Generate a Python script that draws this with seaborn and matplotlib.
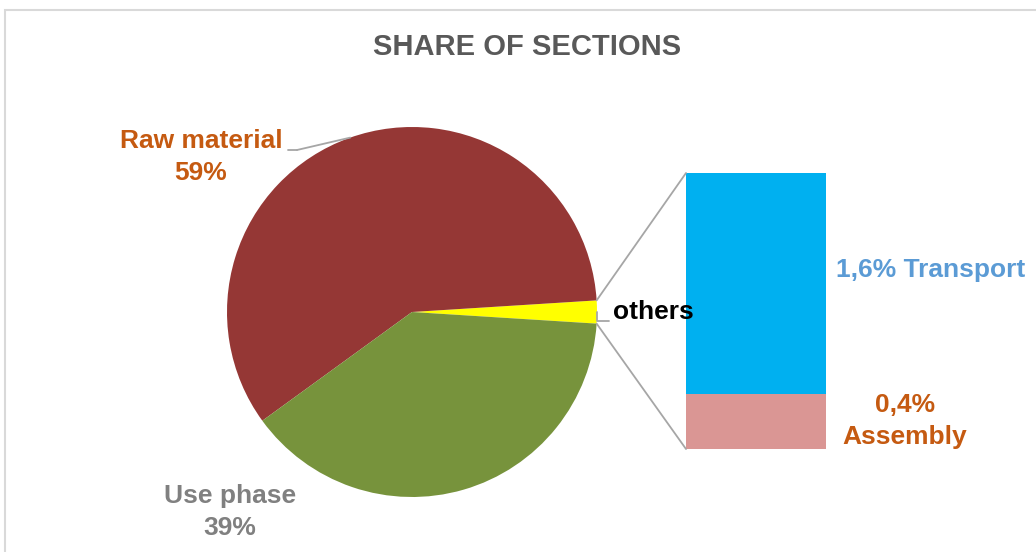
import numpy as np
import matplotlib
matplotlib.use("Agg")
import matplotlib.pyplot as plt
import seaborn as sns
from matplotlib.patches import ConnectionPatch, Rectangle
from matplotlib.lines import Line2D

title = "SHARE OF SECTIONS"
pie_labels = ["others", "Raw material", "Use phase"]
pie_values = [2, 59, 39]
pie_colors = ["#FFFF00", "#953735", "#77933C"]
bar_labels = ["Assembly", "Transport"]
bar_values = [0.4, 1.6]
bar_colors = ["#DA9694", "#00B0F0"]

sns.set_theme(style="white")
plt.rcParams['font.family'] = ['Liberation Sans', 'DejaVu Sans']

W, H = 1036, 552
fig = plt.figure(figsize=(W / 100, H / 100), dpi=100)
fig.patch.set_facecolor("white")


def fx(x):
    return x / W


def fy(y):
    return 1 - y / H


# chart frame
fig.patches.append(Rectangle((fx(4.5), -0.1), 1.2, fy(10) + 0.1,
                             transform=fig.transFigure, fill=False,
                             edgecolor="#D9D9D9", lw=1.5))

# pie
cx, cy, r = 412, 312, 185
ax_pie = fig.add_axes([fx(cx - r), fy(cy + r), 2 * r / W, 2 * r / H])
others_deg = pie_values[0] / sum(pie_values) * 360
ax_pie.pie(pie_values, colors=pie_colors, startangle=-others_deg / 2,
           counterclock=True, radius=1, wedgeprops=dict(linewidth=0))
ax_pie.set_xlim(-1, 1)
ax_pie.set_ylim(-1, 1)
ax_pie.axis("off")

# stacked bar
bx0, bx1, by0, by1 = 686, 826, 173, 449
ax_bar = fig.add_axes([fx(bx0), fy(by1), (bx1 - bx0) / W, (by1 - by0) / H])
bottom = 0
for lab, v, c in zip(bar_labels, bar_values, bar_colors):
    ax_bar.bar(0, v, width=1, bottom=bottom, color=c, linewidth=0)
    bottom += v
total = sum(bar_values)
ax_bar.set_xlim(-0.5, 0.5)
ax_bar.set_ylim(0, total)
ax_bar.axis("off")

# connector lines
t = np.deg2rad(others_deg / 2)
for sgn, yb in [(1, total), (-1, 0)]:
    con = ConnectionPatch(xyA=(np.cos(t), sgn * np.sin(t)), coordsA=ax_pie.transData,
                          xyB=(-0.5, yb), coordsB=ax_bar.transData,
                          color="#A6A6A6", lw=1.3)
    fig.add_artist(con)

# title
fig.text(fx(527), fy(47), title, ha="center", va="center", fontsize=21,
         fontweight="bold", color="#595959")

# labels
lab_kw = dict(ha="center", va="center", fontsize=19, fontweight="bold",
              linespacing=1.38)
fig.text(fx(201), fy(157), f"{pie_labels[1]}\n{pie_values[1]}%", color="#C55A11", **lab_kw)
fig.text(fx(230), fy(512), f"{pie_labels[2]}\n{pie_values[2]}%", color="#808080", **lab_kw)
fig.text(fx(653), fy(312), pie_labels[0], color="black", **lab_kw)
fig.text(fx(931), fy(270), f"{bar_values[1]:.1f}% {bar_labels[1]}".replace(".", ","),
         color="#5B9BD5", **lab_kw)
fig.text(fx(905), fy(421), f"{bar_values[0]:.1f}%\n{bar_labels[0]}".replace(".", ","),
         color="#C55A11", **lab_kw)

# leader lines
lead = dict(arrowstyle="-", color="#A6A6A6", lw=1.3, shrinkA=0, shrinkB=0)
a = np.deg2rad(109.5)
ax_pie.annotate("", xy=(np.cos(a), np.sin(a)), xycoords="data",
                xytext=(fx(297), fy(150)), textcoords="figure fraction",
                arrowprops=lead)
fig.add_artist(Line2D([fx(288), fx(297)], [fy(150), fy(150)],
                      transform=fig.transFigure, color="#A6A6A6", lw=1.3))
ax_pie.annotate("", xy=(1.0, 0.0), xycoords="data",
                xytext=(fx(609), fy(321)), textcoords="figure fraction",
                arrowprops=dict(connectionstyle="angle,angleA=0,angleB=90,rad=0", **lead))

fig.savefig("out.png", dpi=100, facecolor="white")
